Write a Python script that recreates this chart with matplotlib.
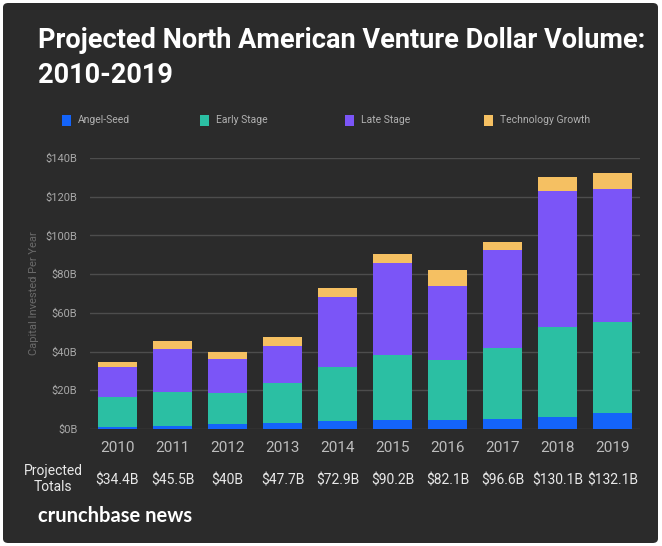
import matplotlib
import matplotlib.pyplot as plt
from matplotlib.patches import FancyBboxPatch

years = ['2010', '2011', '2012', '2013', '2014', '2015', '2016', '2017', '2018', '2019']
angel_seed = [1.0, 1.7, 2.6, 3.1, 4.0, 4.6, 4.8, 5.2, 6.4, 8.1]
early_stage = [15.4, 17.6, 16.0, 20.5, 28.2, 33.6, 30.8, 36.8, 46.1, 47.3]
late_stage = [15.5, 21.9, 17.6, 19.3, 36.0, 47.4, 38.4, 50.3, 70.6, 68.4]
tech_growth = [2.5, 4.3, 3.8, 4.8, 4.7, 4.6, 8.1, 4.3, 7.0, 8.3]
totals = ['$34.4B', '$45.5B', '$40B', '$47.7B', '$72.9B', '$90.2B', '$82.1B', '$96.6B', '$130.1B', '$132.1B']
series_names = ['Angel-Seed', 'Early Stage', 'Late Stage', 'Technology Growth']
colors = ['#1464fa', '#2bbfa3', '#7b55f7', '#f5c062']
yticks = [0, 20, 40, 60, 80, 100, 120, 140]

matplotlib.rc('font', family=['Roboto', 'DejaVu Sans'])
bg = '#2b2b2b'

fig = plt.figure(figsize=(6.62, 5.46), dpi=100)
fig.patch.set_facecolor('white')
card = FancyBboxPatch((3 / 662, 3 / 546), 655 / 662, 540 / 546, boxstyle='round,pad=0,rounding_size=0.008',
                      transform=fig.transFigure, facecolor=bg, edgecolor='none', zorder=-10)
fig.patches.append(card)

ax = fig.add_axes([90 / 662, 117 / 546, 550 / 662, 271 / 546])
ax.set_facecolor(bg)

x = range(len(years))
bottom = [0] * len(years)
for vals, c in zip([angel_seed, early_stage, late_stage, tech_growth], colors):
    ax.bar(x, vals, width=0.727, bottom=bottom, color=c, zorder=3)
    bottom = [b + v for b, v in zip(bottom, vals)]

ax.set_xlim(-0.5, 9.5)
ax.set_ylim(0, 140)
ax.set_yticks(yticks)
ax.set_yticklabels(['$%dB' % t for t in yticks], color='#a8a8a8', fontsize=8)
ax.set_xticks(list(x))
ax.set_xticklabels(years, color='#bdbdbd', fontsize=11)
ax.tick_params(axis='y', length=0, pad=9)
ax.tick_params(axis='x', length=0, pad=9)
ax.grid(axis='y', color='#4d4d4d', linewidth=1, zorder=0)
for s in ax.spines.values():
    s.set_visible(False)

ax.set_ylabel('Capital Invested Per Year', color='#6a6a6a', fontsize=8, labelpad=5)

# totals row
for i, t in enumerate(totals):
    ax.text(i, -26.5, t, ha='center', va='center', color='#e8e8e8', fontsize=10,
            transform=ax.transData, clip_on=False)
fig.text(53 / 662, 1 - 479 / 546, 'Projected\nTotals', ha='center', va='center', color='#e8e8e8',
         fontsize=10, linespacing=1.1)

# title
fig.text(38 / 662, 1 - 48 / 546, 'Projected North American Venture Dollar Volume:',
         ha='left', va='baseline', color='white', fontsize=19.5, fontweight='bold')
fig.text(38 / 662, 1 - 83 / 546, '2010-2019',
         ha='left', va='baseline', color='white', fontsize=19.5, fontweight='bold')

# legend
leg_x = [62, 200, 345, 484]
for lx, name, c in zip(leg_x, series_names, colors):
    fig.patches.append(plt.Rectangle((lx / 662, 1 - 126 / 546), 9 / 662, 11 / 546,
                                     transform=fig.transFigure, facecolor=c, edgecolor='none'))
    fig.text((lx + 16) / 662, 1 - 120 / 546, name, ha='left', va='center', color='#b0b0b0', fontsize=7.5)

fig.text(38 / 662, 1 - 516 / 546, 'crunchbase news', ha='left', va='center', color='white',
         fontsize=14.5, fontweight='bold', family=['Lato', 'DejaVu Sans'])

fig.savefig('out.png', dpi=100, facecolor=fig.get_facecolor())
